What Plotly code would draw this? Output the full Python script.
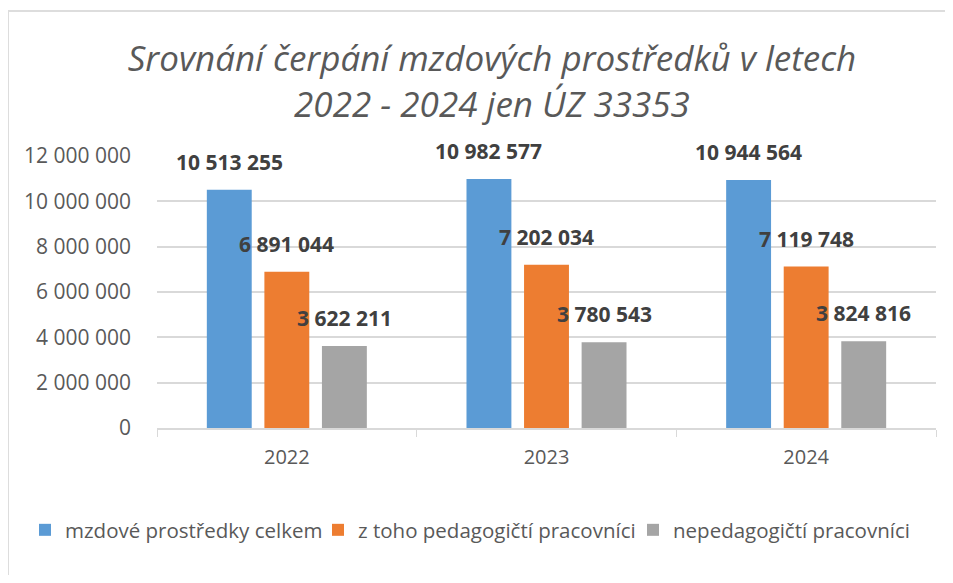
import plotly.graph_objects as go

years = ["2022", "2023", "2024"]
series_names = ["mzdové prostředky celkem", "z toho pedagogičtí pracovníci", "nepedagogičtí pracovníci"]
celkem = [10513255, 10982577, 10944564]
pedagog = [6891044, 7202034, 7119748]
nepedagog = [3622211, 3780543, 3824816]
colors = ["#5B9BD5", "#ED7D31", "#A5A5A5"]
y_ticks = [0, 2000000, 4000000, 6000000, 8000000, 10000000, 12000000]

# page has an 8px body margin; figure coordinates = page coordinates - 8
OFF = 8
W, H = 953 - 2 * OFF, 583 - 2 * OFF
ml, mt = 157 - OFF, 156 - OFF
mr = W - (936 - OFF)
mb = H - (428 - OFF)
pw, ph = W - ml - mr, H - mt - mb
bargap, bargroupgap = 0.335, 0.22
legend_left_px = [25, 318, 633]

fig = go.Figure()
all_series = [celkem, pedagog, nepedagog]
legend_ids = ["legend", "legend2", "legend3"]
for name, vals, col, lid in zip(series_names, all_series, colors, legend_ids):
    fig.add_trace(go.Bar(x=years, y=vals, name=name, marker=dict(color=col, line=dict(width=0)),
                         hoverinfo="x+y", legend=lid))

def fmt(v):
    return f"{v:,}".replace(",", " ")

n = len(all_series)
slot = (1 - bargap) / n
for j, vals in enumerate(all_series):
    for i, v in enumerate(vals):
        fig.add_annotation(x=i + (j - (n - 1) / 2) * slot, y=v, xref="x", yref="y",
                           text="<b>" + fmt(v) + "</b>", showarrow=False,
                           yanchor="bottom", yshift=12,
                           font=dict(family="Open Sans", size=21, color="#404040"))

def px2paper_x(px):
    return (px - OFF - ml) / pw

def px2paper_y(py):
    return (H - mb - (py - OFF)) / ph

# outer chart border (left and top edges visible)
fig.add_shape(type="line", xref="paper", yref="paper",
              x0=px2paper_x(8), x1=px2paper_x(970), y0=px2paper_y(11), y1=px2paper_y(11),
              line=dict(color="#DDDDDD", width=2))
fig.add_shape(type="line", xref="paper", yref="paper",
              x0=px2paper_x(8), x1=px2paper_x(8), y0=px2paper_y(11), y1=px2paper_y(600),
              line=dict(color="#DDDDDD", width=2))

legend_common = dict(orientation="h", xref="container", xanchor="left",
                     yref="container", y=1 - (530 - OFF) / H, yanchor="middle",
                     font=dict(family="Open Sans", size=20.5, color="#595959"),
                     itemwidth=30, bgcolor="rgba(0,0,0,0)")

fig.update_layout(
    width=W, height=H,
    margin=dict(l=ml, r=mr, t=mt, b=mb),
    paper_bgcolor="white", plot_bgcolor="white",
    barmode="group", bargap=bargap, bargroupgap=bargroupgap,
    separators=", ",
    title=dict(text="Srovnání čerpání mzdových prostředků v letech<br>2022 - 2024 jen ÚZ 33353",
               x=(492 - OFF) / W, xanchor="center", y=1 - (71 - OFF) / H, yanchor="middle",
               font=dict(family="Open Sans", size=35, color="#595959", style="italic")),
    font=dict(family="Open Sans", color="#595959"),
    showlegend=True,
    legend=dict(x=(legend_left_px[0] - OFF) / W, **legend_common),
    legend2=dict(x=(legend_left_px[1] - OFF) / W, **legend_common),
    legend3=dict(x=(legend_left_px[2] - OFF) / W, **legend_common),
    xaxis=dict(type="category", showgrid=False, showline=True, linecolor="#D9D9D9", linewidth=1.5,
               ticks="outside", tickson="boundaries", ticklen=7, tickcolor="#D9D9D9",
               ticklabelstandoff=10,
               tickfont=dict(family="Open Sans", size=20, color="#595959")),
    yaxis=dict(range=[0, 12000000], tickvals=y_ticks, tickformat=",d",
               showgrid=True, gridcolor="#D9D9D9", gridwidth=1.5, zeroline=False,
               showline=False, ticks="", ticklabelstandoff=25,
               tickfont=dict(family="Open Sans", size=21, color="#595959")),
)

fig.write_html("out.html")
